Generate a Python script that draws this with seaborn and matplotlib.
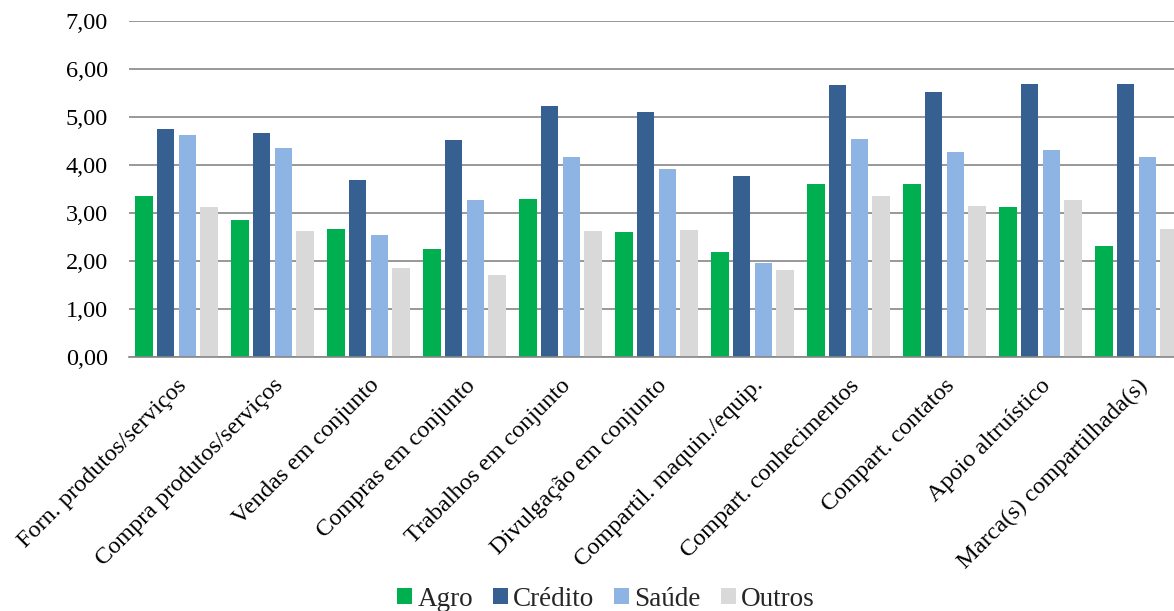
import matplotlib
matplotlib.use("Agg")
import matplotlib.pyplot as plt
import seaborn as sns
import pandas as pd
from matplotlib.ticker import FuncFormatter, MultipleLocator
from matplotlib.patches import Patch

categories = [
    "Forn. produtos/serviços",
    "Compra produtos/serviços",
    "Vendas em conjunto",
    "Compras em conjunto",
    "Trabalhos em conjunto",
    "Divulgação em conjunto",
    "Compartil. maquin./equip.",
    "Compart. conhecimentos",
    "Compart. contatos",
    "Apoio altruístico",
    "Marca(s) compartilhada(s)",
]
series_names = ["Agro", "Crédito", "Saúde", "Outros"]
agro = [3.35, 2.85, 2.67, 2.26, 3.30, 2.61, 2.18, 3.60, 3.60, 3.12, 2.31]
credito = [4.74, 4.67, 3.69, 4.53, 5.22, 5.11, 3.78, 5.66, 5.53, 5.69, 5.69]
saude = [4.63, 4.35, 2.54, 3.27, 4.17, 3.91, 1.95, 4.54, 4.27, 4.31, 4.17]
outros = [3.12, 2.62, 1.86, 1.71, 2.63, 2.64, 1.81, 3.36, 3.15, 3.28, 2.67]
colors = ["#00B050", "#366092", "#8EB4E3", "#D9D9D9"]

rows = []
for name, vals in zip(series_names, [agro, credito, saude, outros]):
    for c, v in zip(categories, vals):
        rows.append({"cat": c, "serie": name, "valor": v})
df = pd.DataFrame(rows)

sns.set_style("white")
plt.rcParams["font.family"] = ["Liberation Serif", "DejaVu Serif"]

fig = plt.figure(figsize=(11.74, 6.11), dpi=100)
ax = fig.add_axes([128.5 / 1174, 1 - 357 / 611, 1 - 128.5 / 1174, (357 - 21) / 611])

sns.barplot(data=df, x="cat", y="valor", hue="serie", order=categories,
            hue_order=series_names, palette=colors, width=0.904, gap=0.19,
            ax=ax, legend=False, saturation=1, edgecolor="none", linewidth=0)

ax.set_ylim(0, 7)
ax.set_xlim(-0.5, -0.5 + 1045.5 / 96)
ax.yaxis.set_major_locator(MultipleLocator(1))
ax.yaxis.set_major_formatter(FuncFormatter(lambda v, p: f"{v:.2f}".replace(".", ",")))
ax.grid(axis="y", color="#868686", linewidth=1.2)
ax.set_axisbelow(True)
for s in ["top", "right", "left"]:
    ax.spines[s].set_visible(False)
ax.spines["bottom"].set_color("#868686")
ax.spines["bottom"].set_linewidth(1.2)
ax.tick_params(axis="both", length=0, labelsize=17.5, colors="black")
ax.tick_params(axis="y", pad=15)
ax.tick_params(axis="x", pad=13)
plt.setp(ax.get_xticklabels(), rotation=45, ha="right", rotation_mode="anchor")
ax.set_xlabel("")
ax.set_ylabel("")

handles = [Patch(facecolor=c, edgecolor="none") for c in colors]
fig.legend(handles, series_names, loc="center", bbox_to_anchor=(606 / 1174, 12 / 611),
           ncol=4, frameon=False, fontsize=19.5, handlelength=0.55, handleheight=0.5,
           handletextpad=0.2, columnspacing=0.73, borderaxespad=0, borderpad=0)

fig.savefig("out.png", dpi=100)
